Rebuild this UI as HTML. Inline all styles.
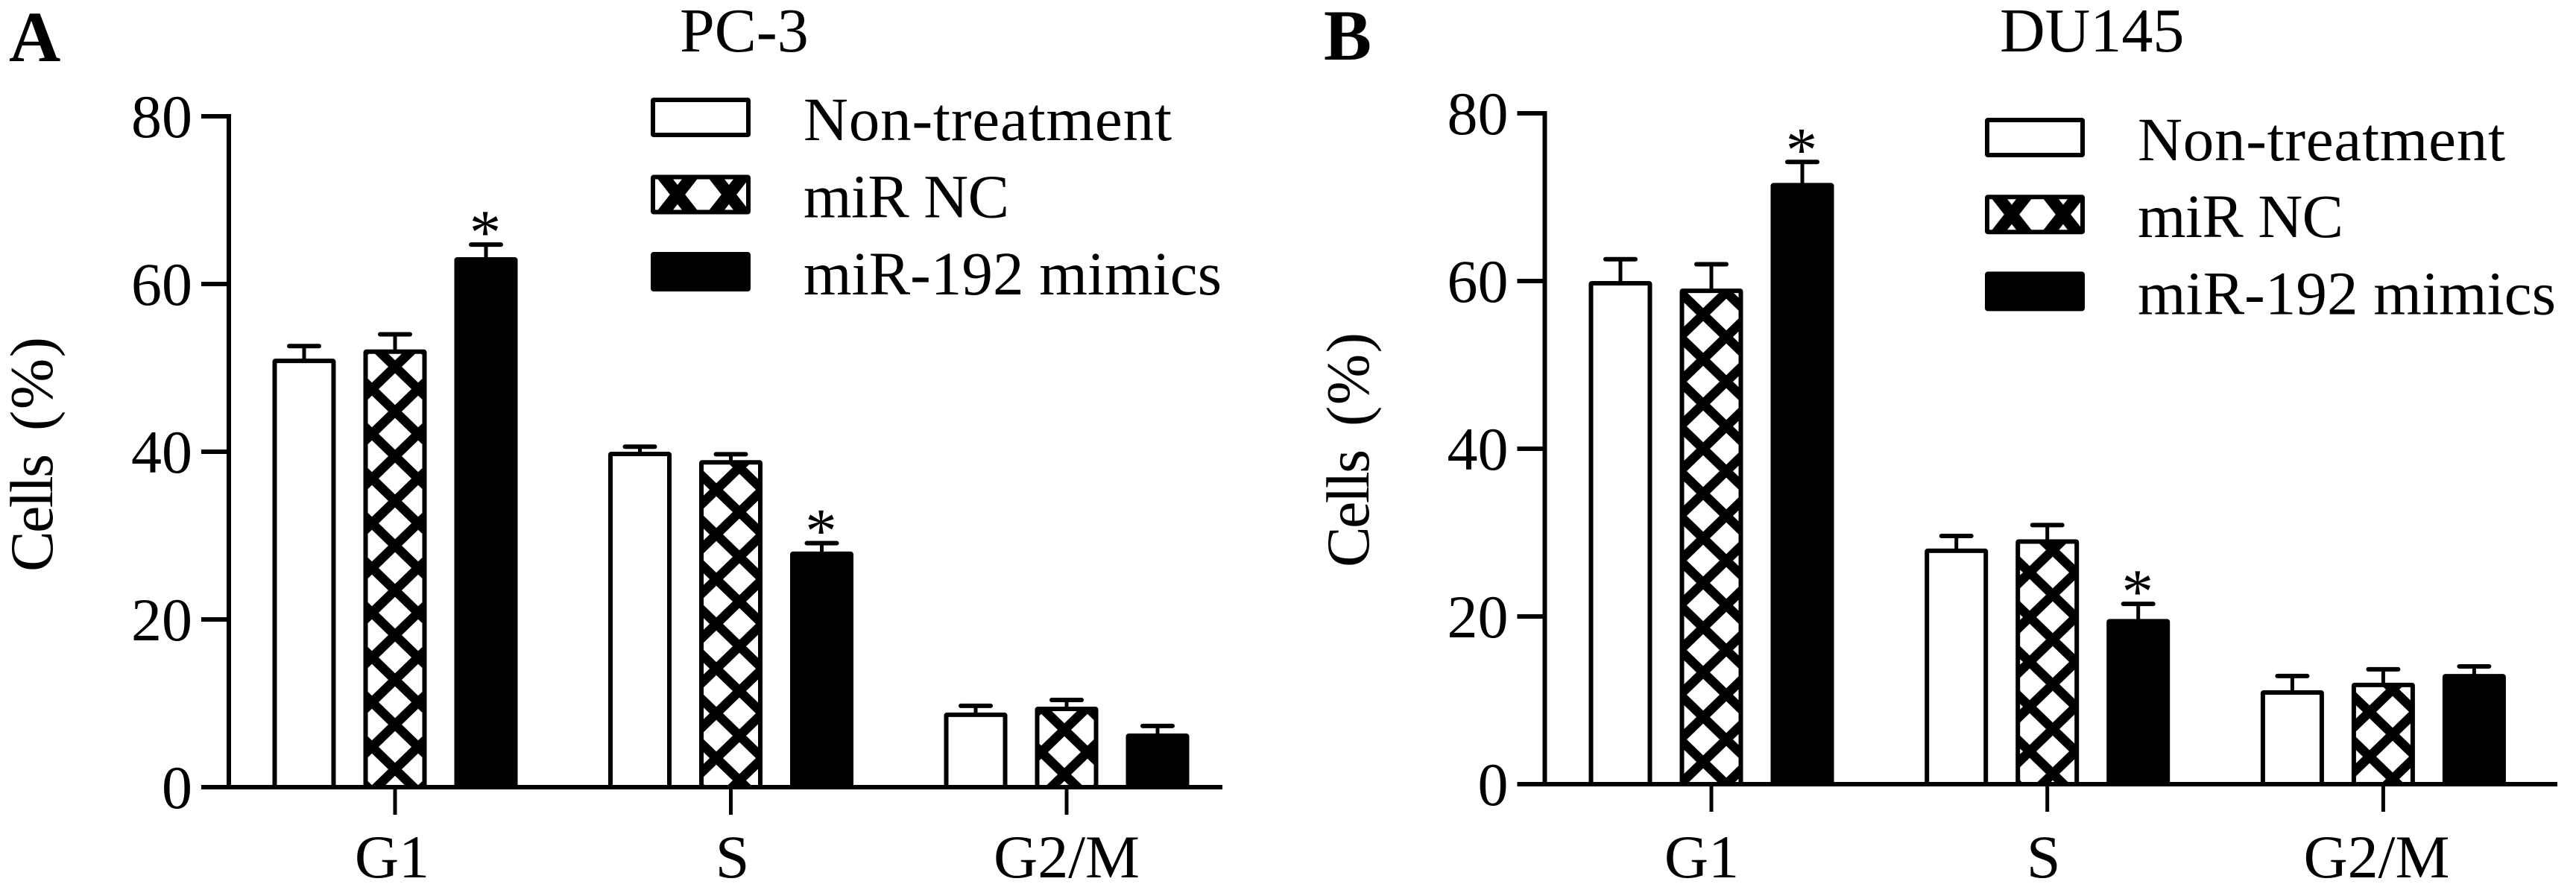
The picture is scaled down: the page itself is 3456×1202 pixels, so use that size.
<!DOCTYPE html>
<html lang="en">
<head>
<meta charset="utf-8">
<title>Cell cycle distribution in PC-3 and DU145</title>
<style>
html,body{margin:0;padding:0;background:#fff;}
svg{display:block;}
text{font-family:"Liberation Serif","Times New Roman",serif;fill:#000;}
</style>
</head>
<body>
<svg id="figure" xmlns="http://www.w3.org/2000/svg" width="3456" height="1202" viewBox="0 0 3456 1202">
<rect width="3456" height="1202" fill="#fff"/>
<defs id="defs"></defs>
<text x="12" y="82" font-size="96" font-weight="bold">A</text>
<text x="1776" y="80" font-size="96" font-weight="bold">B</text>
<text x="912" y="69" font-size="84">PC-3</text>
<text x="2683" y="69" font-size="84">DU145</text>
<text transform="translate(70,767) rotate(-90)" font-size="82" textLength="158">Cells</text>
<text transform="translate(70,578) rotate(-90)" font-size="82" textLength="126">(%)</text>
<text transform="translate(1836,761) rotate(-90)" font-size="82" textLength="158">Cells</text>
<text transform="translate(1836,572) rotate(-90)" font-size="82" textLength="126">(%)</text>
<g id="panel-a"></g>
<g id="panel-b"></g>
</svg>
<script>
const categories = ['G1', 'S', 'G2/M'];
const tickLabels = [0, 20, 40, 60, 80];
const seriesNames = ['Non-treatment', 'miR NC', 'miR-192 mimics'];

const pc3NonTreatment = [51.1, 40, 8.9];
const pc3NonTreatmentUpper = [52.6, 40.6, 9.7];
const pc3MirNc = [52.2, 39, 9.6];
const pc3MirNcUpper = [54, 39.7, 10.4];
const pc3Mimics = [63.2, 28.1, 6.4];
const pc3MimicsUpper = [64.7, 29.1, 7.3];
const pc3MimicsSignificant = [true, true, false];

const du145NonTreatment = [60, 28.1, 11.2];
const du145NonTreatmentUpper = [62.6, 29.6, 12.9];
const du145MirNc = [59.1, 29.2, 12.1];
const du145MirNcUpper = [62, 30.9, 13.7];
const du145Mimics = [71.7, 19.7, 13.15];
const du145MimicsUpper = [74.2, 21.5, 14.05];
const du145MimicsSignificant = [true, true, false];

const NS = 'http://www.w3.org/2000/svg';
const BLACK = '#000';
const defs = document.getElementById('defs');

function node(tag, parent, attrs) {
  const el = document.createElementNS(NS, tag);
  for (const k in attrs) el.setAttribute(k, attrs[k]);
  parent.appendChild(el);
  return el;
}

function makeHatch(id, cx, cy, w, h, sw) {
  const p = node('pattern', defs, {
    id: id, patternUnits: 'userSpaceOnUse',
    x: cx - w / 2, y: cy - h / 2, width: w, height: h
  });
  node('rect', p, { width: w, height: h, fill: '#fff' });
  node('line', p, { x1: -w, y1: -h, x2: 2 * w, y2: 2 * h, stroke: BLACK, 'stroke-width': sw });
  node('line', p, { x1: 2 * w, y1: -h, x2: -w, y2: 2 * h, stroke: BLACK, 'stroke-width': sw });
  return 'url(#' + id + ')';
}

function drawBarShape(g, x, top, w, bottom, kind, hatchId) {
  const fill = kind === 0 ? '#fff' : kind === 1 ? hatchId : BLACK;
  return node('rect', g, {
    x: x + 3, y: top + 3, width: w - 6, height: Math.max(0, bottom - top - 3),
    fill: fill, stroke: BLACK, 'stroke-width': 6, rx: 1
  });
}

function drawPanel(cfg) {
  const root = document.getElementById(cfg.id);
  const yOf = v => cfg.zeroY - v * cfg.unit;
  const xOf = (group, series) => cfg.x0 + group * cfg.groupStep + series * cfg.barStep;

  const yAxis = node('line', root, { x1: cfg.axisX, x2: cfg.axisX, y1: yOf(80) - 3, y2: cfg.zeroY, stroke: BLACK, 'stroke-width': 6 });
  
  

  tickLabels.forEach(t => {
    const tick = node('line', root, { x1: cfg.axisX - 37, x2: cfg.axisX, y1: yOf(t), y2: yOf(t), stroke: BLACK, 'stroke-width': 6, 'stroke-linecap': 'butt' });
    
    
    const label = node('text', root, { x: cfg.axisX - 49, y: yOf(t) + 28, 'font-size': 82, 'text-anchor': 'end' });
    label.textContent = t;
    
    
  });

  const bottomAxis = node('line', root, { x1: cfg.axisX - 37, x2: cfg.axisEnd, y1: cfg.zeroY, y2: cfg.zeroY, stroke: BLACK, 'stroke-width': 6 });
  
  

  categories.forEach((cat, gi) => {
    cfg.values.forEach((vals, si) => {
      const cx = xOf(gi, si);
      const top = yOf(vals[gi]);
      const capY = yOf(cfg.uppers[si][gi]);
      let hatch = '';
      if (si === 1) {
        hatch = makeHatch(cfg.id + '-hatch-' + gi, cfg.hatchAnchors[gi][0], cfg.hatchAnchors[gi][1], 62, 60, 12.5);
      }
      const stem = node('line', root, { x1: cx, x2: cx, y1: capY, y2: top + 2, stroke: BLACK, 'stroke-width': 5 });
      
      
      const cap = node('line', root, { x1: cx - 20, x2: cx + 20, y1: capY, y2: capY, stroke: BLACK, 'stroke-width': 6, 'stroke-linecap': 'round' });
      
      
      const bar = drawBarShape(root, cx - cfg.barW / 2, top, cfg.barW, cfg.zeroY, si, hatch);
      
      
      if (si === 2 && cfg.significant[gi]) {
        const star = node('text', root, { x: cx - 1, y: capY + 12, 'font-size': 85, 'text-anchor': 'middle' });
        star.textContent = '*';
        
        
      }
    });
    const tx = xOf(gi, 1);
    const xtick = node('line', root, { x1: tx, x2: tx, y1: cfg.zeroY, y2: cfg.zeroY + 37, stroke: BLACK, 'stroke-width': 5 });
    
    
    const xlabel = node('text', root, { x: tx + cfg.labelShift[gi], y: 1177, 'font-size': 82, 'text-anchor': 'middle' });
    xlabel.textContent = cat;
    
    
  });

  seriesNames.forEach((name, si) => {
    const ly = cfg.legendY + si * cfg.legendStep;
    let hatch = '';
    if (si === 1) {
      hatch = makeHatch(cfg.id + '-legend-hatch', cfg.legendX + 36, ly + 26.5, 69, 88, 16);
    }
    const swatch = drawBarShape(root, cfg.legendX, ly, 134, ly + 53, si, hatch);
    swatch.setAttribute('height', 47);
    
    
    const label = node('text', root, { x: cfg.legendTextX, y: ly + 57, 'font-size': 83, textLength: cfg.legendWidths[si] });
    label.textContent = name;
    
    
  });
}

drawPanel({
  id: 'panel-a', zeroY: 1056, unit: 11.25, axisX: 307, axisEnd: 1640,
  x0: 408, groupStep: 450.5, barStep: 122, barW: 85,
  values: [pc3NonTreatment, pc3MirNc, pc3Mimics],
  uppers: [pc3NonTreatmentUpper, pc3MirNcUpper, pc3MimicsUpper],
  significant: pc3MimicsSignificant,
  hatchAnchors: [[530, 492], [992, 687], [1428, 979]],
  labelShift: [-4, 2, 0],
  legendX: 873, legendY: 131, legendStep: 103.5, legendTextX: 1078,
  legendWidths: [494, 276, 561]
});

drawPanel({
  id: 'panel-b', zeroY: 1052, unit: 11.25, axisX: 2072.5, axisEnd: 3431,
  x0: 2174, groupStep: 450.7, barStep: 122, barW: 85,
  values: [du145NonTreatment, du145MirNc, du145Mimics],
  uppers: [du145NonTreatmentUpper, du145MirNcUpper, du145MimicsUpper],
  significant: du145MimicsSignificant,
  hatchAnchors: [[2285, 842], [2754, 858], [3210, 985]],
  labelShift: [-13, -5, -9],
  legendX: 2663, legendY: 158, legendStep: 103.2, legendTextX: 2868,
  legendWidths: [493, 276, 561]
});
</script>
</body>
</html>
